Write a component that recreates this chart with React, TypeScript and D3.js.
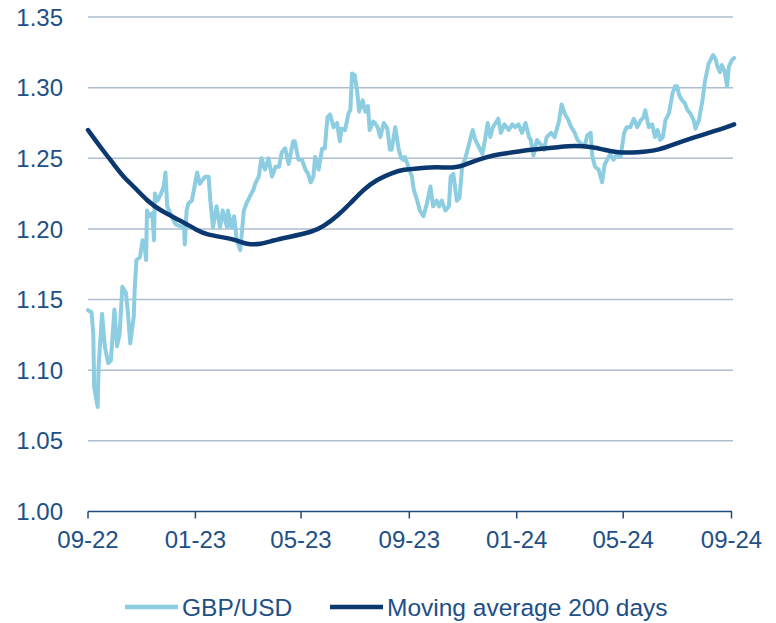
import React from "react";
import * as d3 from "d3";

const gbpDates = [
  "2022-09-01","2022-09-05","2022-09-07","2022-09-08","2022-09-12","2022-09-13","2022-09-17","2022-09-20","2022-09-24","2022-09-27",
  "2022-10-01","2022-10-04","2022-10-07","2022-10-10","2022-10-14","2022-10-16","2022-10-19","2022-10-23","2022-10-24","2022-10-26",
  "2022-10-30","2022-11-02","2022-11-04","2022-11-06","2022-11-07","2022-11-10","2022-11-13","2022-11-15","2022-11-16","2022-11-19",
  "2022-11-23","2022-11-26","2022-11-28","2022-11-30","2022-12-05","2022-12-08","2022-12-10","2022-12-15","2022-12-19","2022-12-20",
  "2022-12-22","2022-12-24","2022-12-28","2023-01-03","2023-01-06","2023-01-12","2023-01-16","2023-01-18","2023-01-21","2023-01-25",
  "2023-01-29","2023-02-01","2023-02-06","2023-02-07","2023-02-11","2023-02-14","2023-02-17","2023-02-21","2023-02-25","2023-02-28",
  "2023-03-04","2023-03-08","2023-03-10","2023-03-14","2023-03-17","2023-03-21","2023-03-25","2023-03-29","2023-04-02","2023-04-06",
  "2023-04-09","2023-04-13","2023-04-17","2023-04-22","2023-04-24","2023-04-28","2023-05-02","2023-05-06","2023-05-09","2023-05-12",
  "2023-05-15","2023-05-17","2023-05-21","2023-05-25","2023-05-28","2023-05-31","2023-06-03","2023-06-07","2023-06-11","2023-06-14",
  "2023-06-16","2023-06-20","2023-06-24","2023-06-26","2023-06-28","2023-07-01","2023-07-04","2023-07-06","2023-07-10","2023-07-13",
  "2023-07-16","2023-07-18","2023-07-22","2023-07-24","2023-07-27","2023-07-30","2023-08-03","2023-08-07","2023-08-10","2023-08-12",
  "2023-08-16","2023-08-20","2023-08-23","2023-08-25","2023-08-27","2023-08-31","2023-09-04","2023-09-06","2023-09-10","2023-09-13",
  "2023-09-17","2023-09-21","2023-09-25","2023-09-28","2023-10-02","2023-10-05","2023-10-08","2023-10-12","2023-10-16","2023-10-18",
  "2023-10-21","2023-10-25","2023-10-28","2023-10-31","2023-11-04","2023-11-07","2023-11-09","2023-11-12","2023-11-15","2023-11-19",
  "2023-11-23","2023-11-26","2023-11-29","2023-12-02","2023-12-05","2023-12-08","2023-12-11","2023-12-14","2023-12-18","2023-12-23",
  "2023-12-27","2023-12-30","2024-01-03","2024-01-07","2024-01-11","2024-01-15","2024-01-17","2024-01-20","2024-01-24","2024-01-28",
  "2024-02-01","2024-02-04","2024-02-09","2024-02-13","2024-02-18","2024-02-21","2024-02-25","2024-02-28","2024-03-03","2024-03-07",
  "2024-03-10","2024-03-13","2024-03-18","2024-03-21","2024-03-25","2024-03-27","2024-03-30","2024-04-03","2024-04-07","2024-04-10",
  "2024-04-13","2024-04-16","2024-04-20","2024-04-24","2024-04-28","2024-05-02","2024-05-05","2024-05-09","2024-05-13","2024-05-17",
  "2024-05-21","2024-05-24","2024-05-26","2024-05-30","2024-06-03","2024-06-06","2024-06-09","2024-06-12","2024-06-15","2024-06-18",
  "2024-06-22","2024-06-26","2024-06-29","2024-07-01","2024-07-04","2024-07-07","2024-07-10","2024-07-13","2024-07-16","2024-07-20",
  "2024-07-22","2024-07-26","2024-07-30","2024-08-02","2024-08-06","2024-08-11","2024-08-14","2024-08-16","2024-08-19","2024-08-21",
  "2024-08-24","2024-08-27","2024-08-29","2024-09-02","2024-09-04"
];

const gbpValues = [
  1.1425,1.141,1.126,1.088,1.074,1.102,1.140,1.117,1.105,1.107,
  1.143,1.117,1.126,1.159,1.155,1.143,1.119,1.138,1.157,1.178,
  1.180,1.192,1.190,1.178,1.213,1.209,1.211,1.192,1.225,1.220,
  1.225,1.230,1.240,1.216,1.209,1.205,1.203,1.202,1.201,1.189,
  1.213,1.218,1.220,1.240,1.232,1.237,1.237,1.220,1.201,1.216,
  1.201,1.213,1.201,1.213,1.201,1.209,1.192,1.185,1.213,1.218,
  1.223,1.228,1.232,1.237,1.250,1.242,1.250,1.237,1.244,1.244,
  1.254,1.257,1.246,1.262,1.262,1.249,1.249,1.242,1.239,1.233,
  1.237,1.251,1.242,1.257,1.257,1.279,1.281,1.272,1.275,1.262,
  1.271,1.270,1.282,1.284,1.310,1.309,1.296,1.283,1.291,1.283,
  1.287,1.270,1.276,1.275,1.272,1.265,1.275,1.271,1.256,1.256,
  1.272,1.256,1.250,1.249,1.251,1.244,1.237,1.228,1.220,1.213,
  1.209,1.218,1.230,1.216,1.220,1.216,1.220,1.213,1.216,1.237,
  1.239,1.220,1.222,1.244,1.251,1.258,1.263,1.270,1.263,1.258,
  1.253,1.263,1.275,1.265,1.272,1.275,1.278,1.268,1.274,1.270,
  1.274,1.272,1.274,1.268,1.275,1.265,1.263,1.252,1.263,1.260,
  1.256,1.265,1.268,1.265,1.276,1.288,1.281,1.278,1.272,1.268,
  1.263,1.261,1.258,1.266,1.268,1.251,1.244,1.242,1.233,1.246,
  1.249,1.253,1.249,1.253,1.251,1.268,1.272,1.272,1.278,1.272,
  1.277,1.279,1.284,1.272,1.274,1.265,1.270,1.263,1.265,1.277,
  1.282,1.296,1.301,1.301,1.294,1.291,1.289,1.284,1.282,1.277,
  1.271,1.277,1.291,1.305,1.317,1.323,1.320,1.315,1.311,1.316,
  1.312,1.301,1.315,1.320,1.321
];

const maDates = [
  "2022-09-01","2022-09-15","2022-09-30","2022-10-11","2022-10-23","2022-11-07","2022-11-22","2022-12-15","2023-01-03","2023-01-14",
  "2023-02-02","2023-02-17","2023-02-28","2023-03-16","2023-03-31","2023-04-15","2023-05-15","2023-05-27","2023-06-11","2023-06-26",
  "2023-07-11","2023-07-26","2023-08-14","2023-08-25","2023-09-13","2023-10-02","2023-10-21","2023-11-02","2023-11-09","2023-11-28",
  "2023-12-13","2024-01-05","2024-01-17","2024-02-20","2024-03-06","2024-03-28","2024-04-09","2024-04-24","2024-05-17","2024-06-12",
  "2024-06-28","2024-07-21","2024-08-12","2024-09-04"
];

const maValues = [
  1.270,1.258,1.246,1.237,1.230,1.220,1.213,1.206,1.199,1.196,
  1.194,1.192,1.189,1.189,1.192,1.194,1.198,1.202,1.209,1.218,
  1.228,1.235,1.240,1.242,1.243,1.244,1.243,1.245,1.247,1.251,
  1.253,1.255,1.256,1.258,1.259,1.258,1.256,1.254,1.254,1.256,
  1.260,1.265,1.269,1.274
];

const yTicks = [1.0, 1.05, 1.1, 1.15, 1.2, 1.25, 1.3, 1.35];
const xTickDates = ["2022-09-01","2023-01-01","2023-05-01","2023-09-01","2024-01-01","2024-05-01","2024-09-01"];
const seriesNames = ["GBP/USD", "Moving average 200 days"];

const parse = d3.timeParse("%Y-%m-%d");
const fmt = d3.timeFormat("%m-%y");

export default function App() {
  const W = 776, H = 623;
  const x = d3.scaleTime()
    .domain([parse("2022-09-01")!, parse("2024-09-01")!])
    .range([88, 731.5]);
  const y = d3.scaleLinear().domain([1.0, 1.35]).range([511.5, 17]);

  const gbp = gbpDates.map((d, i) => ({ d: parse(d)!, v: gbpValues[i] }));
  const ma = maDates.map((d, i) => ({ d: parse(d)!, v: maValues[i] }));

  const line = d3.line<{ d: Date; v: number }>().x(p => x(p.d)).y(p => y(p.v));
  const maLine = d3.line<{ d: Date; v: number }>().x(p => x(p.d)).y(p => y(p.v)).curve(d3.curveBasis);

  const textColor = "#214f86";
  const font = "'Liberation Sans', Arial, sans-serif";

  return (
    <svg width={W} height={H} style={{ position: "absolute", left: 0, top: 0, background: "#fff" }}
      fontFamily={font}>
      {yTicks.filter(t => t > 1.0).map(t => (
        <line key={"g" + t} x1={88} x2={733} y1={y(t)} y2={y(t)} stroke="#aebdd0" strokeWidth={1.5} />
      ))}
      {yTicks.map(t => (
        <text key={"yl" + t} x={63} y={y(t)} dy="0.36em" textAnchor="end" fontSize={24} fill={textColor}>
          {t.toFixed(2)}
        </text>
      ))}
      <line x1={88} x2={732} y1={y(1.0)} y2={y(1.0)} stroke="#1f4a7e" strokeWidth={1.5} />
      {xTickDates.map(s => {
        const xx = x(parse(s)!);
        return (
          <g key={"xt" + s}>
            <line x1={xx} x2={xx} y1={y(1.0)} y2={y(1.0) + 7} stroke="#1f4a7e" strokeWidth={1.5} />
            <text x={xx} y={548} textAnchor="middle" fontSize={24} fill={textColor}>{fmt(parse(s)!)}</text>
          </g>
        );
      })}
      <path d={line(gbp) || ""} fill="none" stroke="#8ccde2" strokeWidth={4} strokeLinejoin="round" strokeLinecap="round" />
      <path d={maLine(ma) || ""} fill="none" stroke="#0c3870" strokeWidth={4.5} strokeLinejoin="round" strokeLinecap="round" />

      <line x1={125} x2={178} y1={607} y2={607} stroke="#8ccde2" strokeWidth={4.5} />
      <text x={182} y={615.5} fontSize={24.5} fill={textColor}>{seriesNames[0]}</text>
      <line x1={330} x2={383} y1={607} y2={607} stroke="#0c3870" strokeWidth={4.5} />
      <text x={387} y={615.5} fontSize={24.5} fill={textColor}>{seriesNames[1]}</text>
    </svg>
  );
}
